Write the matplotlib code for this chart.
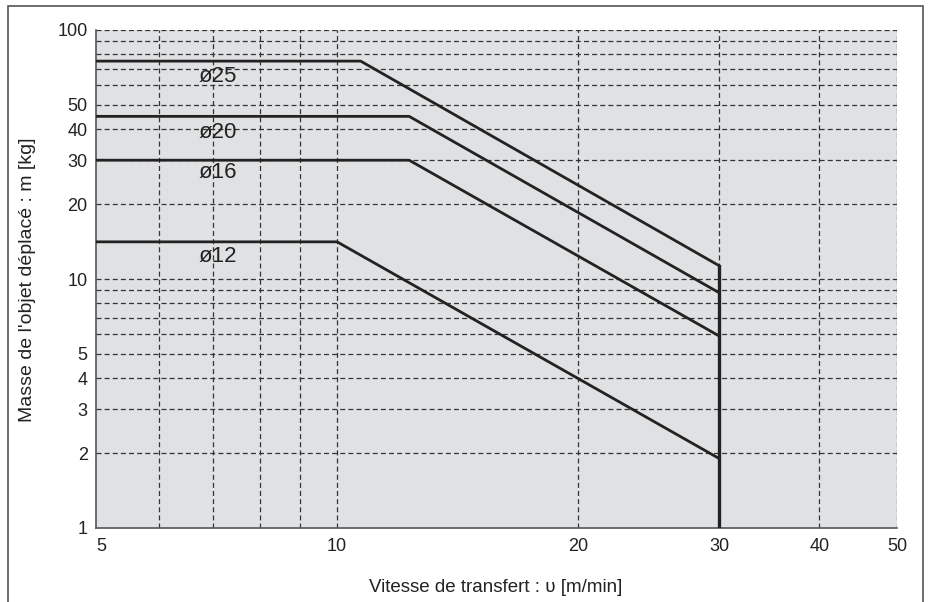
import matplotlib
matplotlib.use("Agg")
import matplotlib.pyplot as plt
from matplotlib.patches import Rectangle

plt.rcParams['font.family'] = ['Liberation Sans', 'DejaVu Sans']

# Data: (speed m/min, mass kg) breakpoints for each bore
series_names = ["ø25", "ø20", "ø16", "ø12"]
speed_x = [[5, 10.7, 30], [5, 12.3, 30], [5, 12.3, 30], [5, 10, 30]]
mass_y = [[75, 75, 11.3], [45, 45, 8.8], [30, 30, 5.9], [14.1, 14.1, 1.9]]
label_x = [7.1, 7.1, 7.1, 7.1]
label_y = [65, 38.6, 26.7, 12.3]
limit_speed = 30
limit_mass = [1, 11.3]

x_ticks = [5, 10, 20, 30, 40, 50]
y_ticks = [1, 2, 3, 4, 5, 10, 20, 30, 40, 50, 100]
x_grid = [6, 7, 8, 9, 10, 20, 30, 40, 50]
y_grid = [2, 3, 4, 5, 6, 7, 8, 9, 10, 20, 30, 40, 50, 60, 70, 80, 90, 100]

fig = plt.figure(figsize=(9.3, 6.02), dpi=100)
ax = fig.add_axes([96/930, 1 - 528/602, (897-96)/930, (528-30)/602])
ax.set_xscale('log')
ax.set_yscale('log')
ax.set_xlim(5, 50)
ax.set_ylim(1, 100)
ax.set_facecolor('#e0e1e3')

gridkw = dict(color='#333333', lw=0.9, ls=(0, (4, 2.5)), zorder=1)
for gx in x_grid:
    ax.axvline(gx, **gridkw)
for gy in y_grid:
    ax.axhline(gy, **gridkw)

for xs, ys in zip(speed_x, mass_y):
    ax.plot(xs, ys, color='#222222', lw=2, zorder=3, solid_capstyle='butt')
ax.plot([limit_speed, limit_speed], limit_mass, color='#222222', lw=2.4, zorder=3)

for name, lx, ly in zip(series_names, label_x, label_y):
    ax.text(lx, ly, name, fontsize=16, ha='center', va='center', color='#222222', zorder=4)

ax.set_xticks(x_ticks)
ax.set_xticklabels([str(v) for v in x_ticks])
ax.set_yticks(y_ticks)
ax.set_yticklabels([str(v) for v in y_ticks])
ax.minorticks_off()
ax.tick_params(length=0, labelsize=13, colors='#222222')
ax.tick_params(axis='x', pad=7)
ax.tick_params(axis='y', pad=6)
ax.get_xticklabels()[0].set_horizontalalignment('left')
for s in ['top', 'right']:
    ax.spines[s].set_visible(False)
for s in ['left', 'bottom']:
    ax.spines[s].set_color('#555555')
    ax.spines[s].set_linewidth(1.2)

fig.text(496/930, 1 - 587/602, "Vitesse de transfert : υ [m/min]", fontsize=13.5,
         ha='center', va='center', color='#222222')
fig.text(28/930, 1 - 280/602, "Masse de l'objet déplacé : m [kg]", fontsize=14,
         ha='center', va='center', rotation=90, color='#222222')

fig.patches.append(Rectangle((8/930, -0.01), (923-8)/930, 1.0, transform=fig.transFigure,
                             fill=False, edgecolor='#555555', lw=1.2))

fig.savefig("out.png", dpi=100, facecolor='white')
